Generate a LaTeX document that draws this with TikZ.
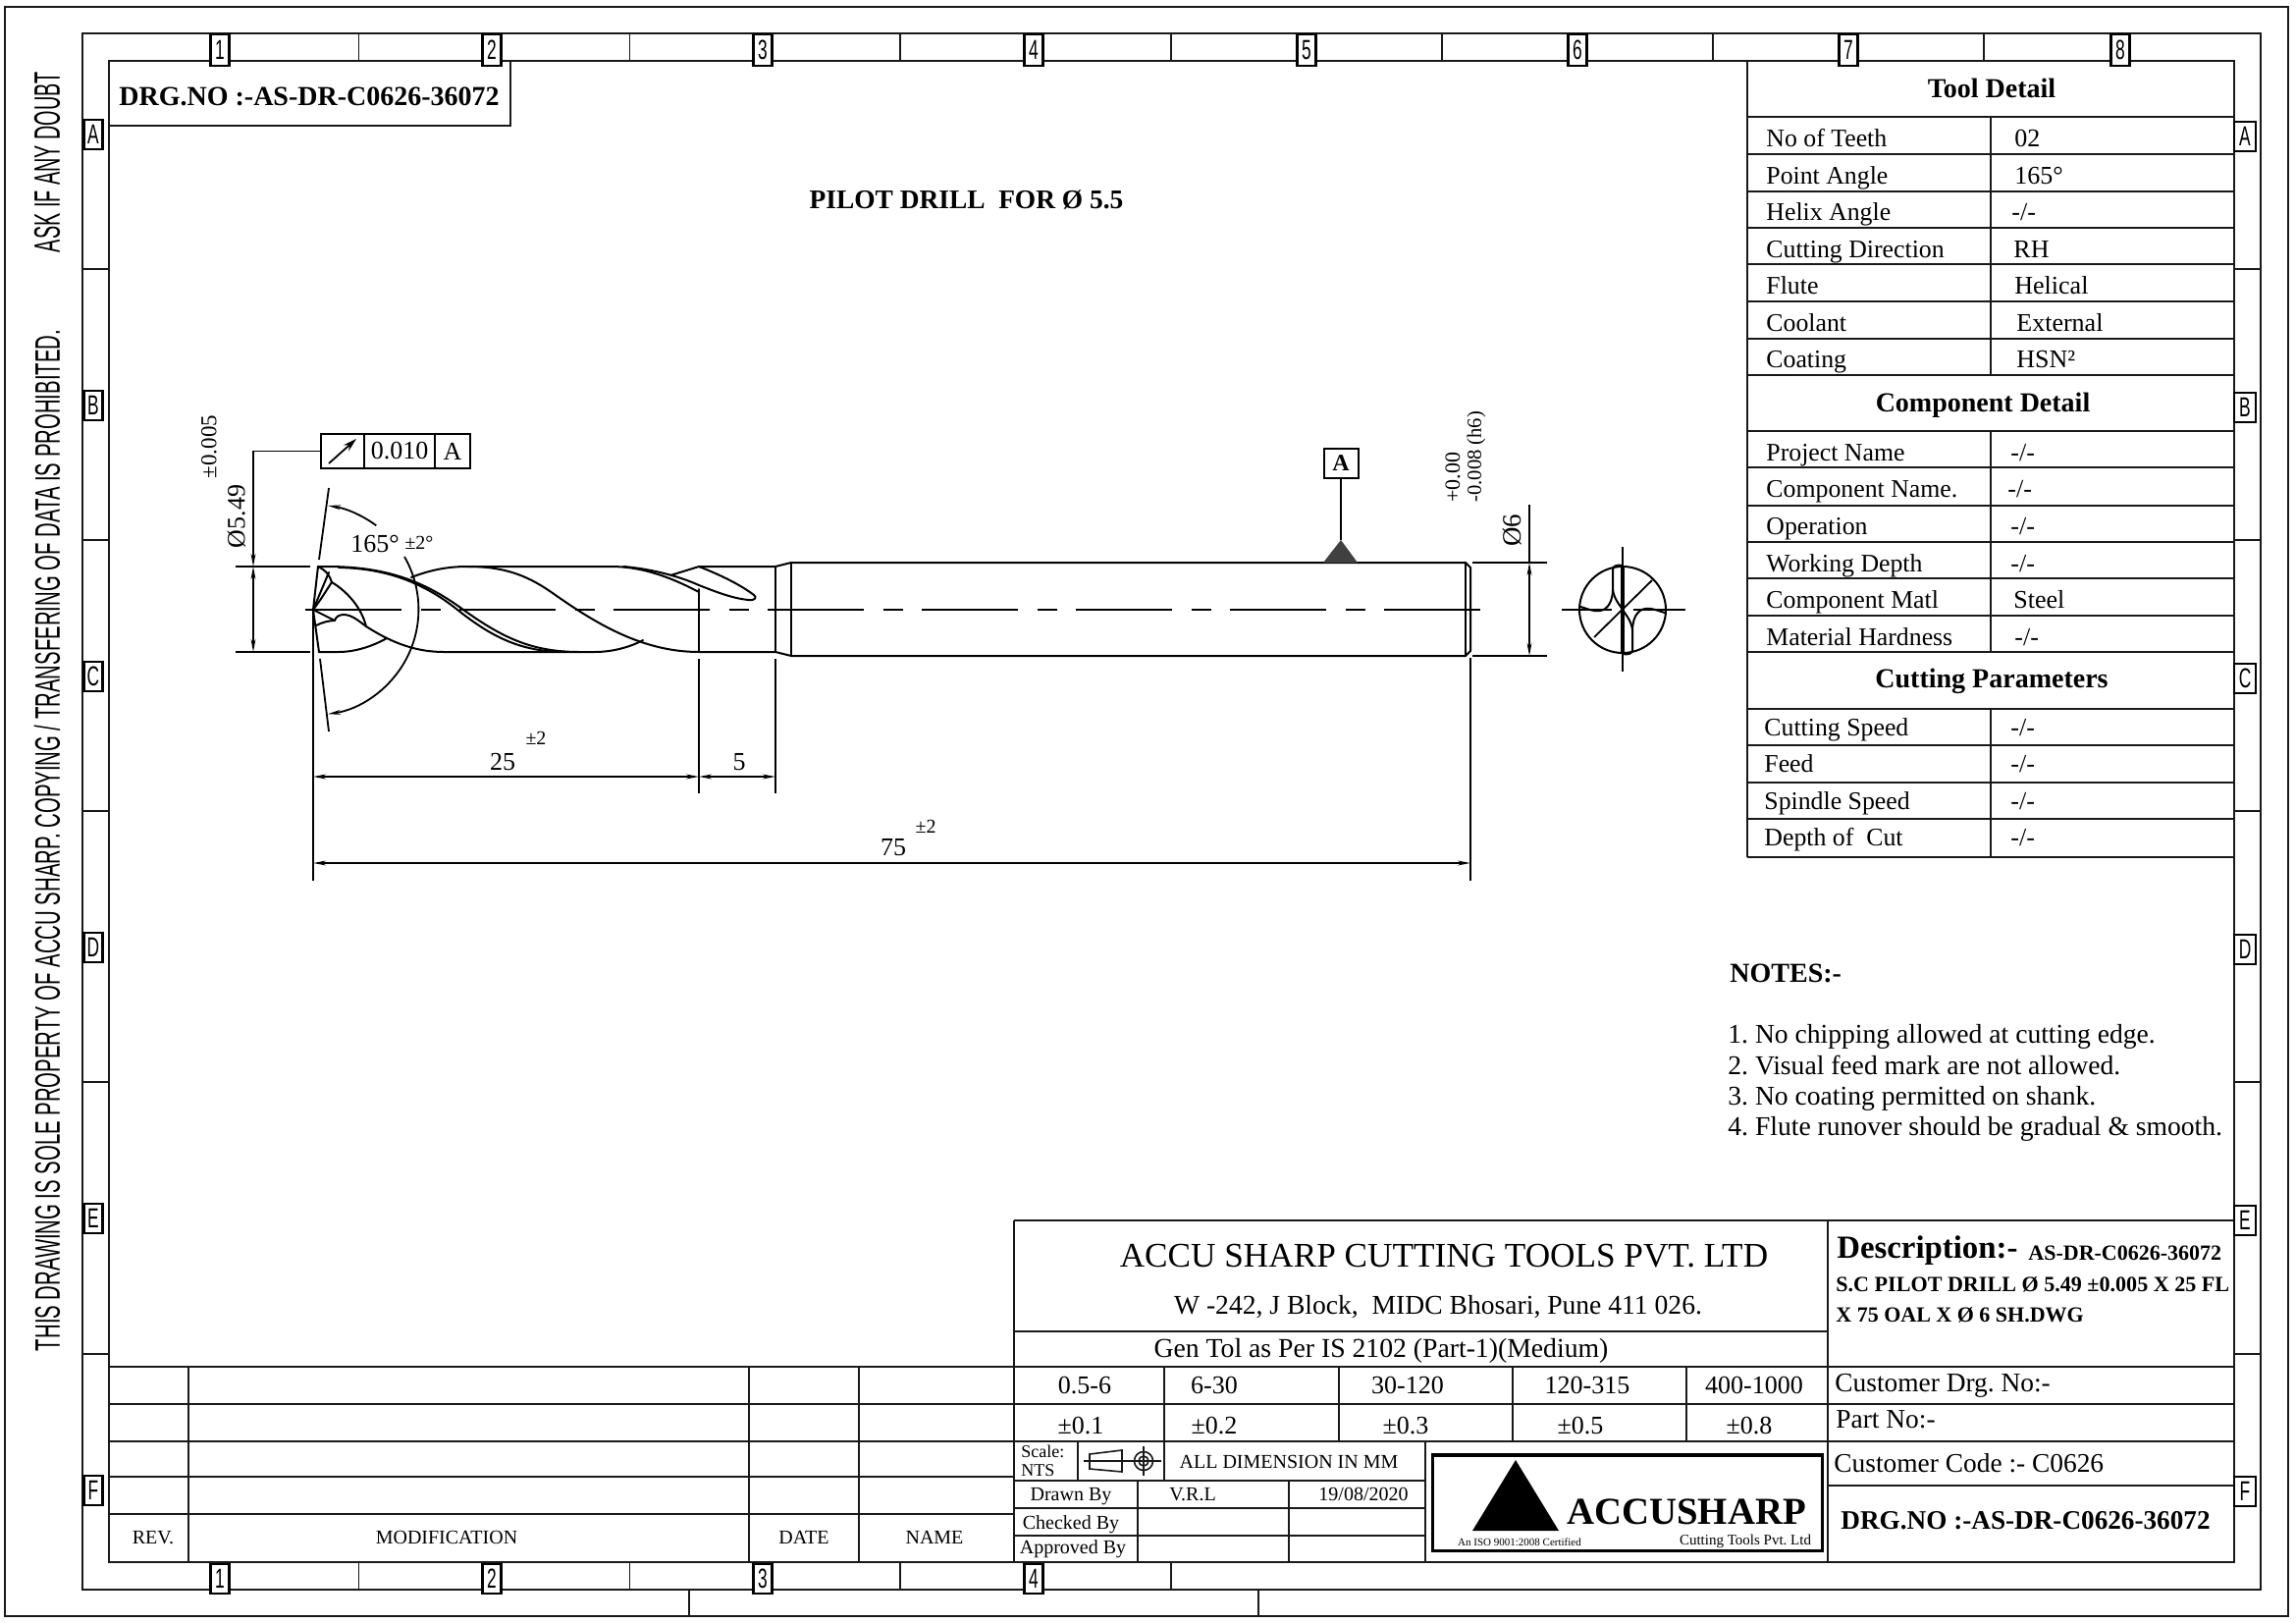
\documentclass[tikz,border=0pt]{standalone}
\usepackage{fontspec}
\usepackage{graphicx}
\setmainfont{Liberation Serif}
\newfontfamily\isofont{Liberation Sans}
\usetikzlibrary{arrows.meta}
\frenchspacing
\newcommand{\fz}[1]{\fontsize{#1pt}{#1pt}\selectfont}
\newcommand{\tc}[5]{\node[anchor=mid,inner sep=0pt,yshift=-#4*0.18pt] (#1) at (#2,#3) {\fz{#4}#5};}
\newcommand{\tl}[5]{\node[anchor=mid west,inner sep=0pt,yshift=-#4*0.18pt] (#1) at (#2,#3) {\fz{#4}#5};}
\newcommand{\gl}[1]{\scalebox{0.62}[1]{\isofont\fz{14}#1}}
\tikzset{
  ln/.style={line width=1pt,black!90},
  thn/.style={line width=0.8pt,black!90},
  dim/.style={line width=0.9pt,black,>={Stealth[length=6.5pt,width=2.4pt]}},
  body/.style={line width=1pt,black,line cap=round,line join=round},
  axisline/.style={line width=1.1pt,black,dash pattern=on 49pt off 9.75pt on 10pt off 9.75pt},
  gbox/.style={draw,fill=white,line width=1.3pt,inner sep=0pt,minimum height=15pt,minimum width=9.5pt}
}
\begin{document}
\begin{tikzpicture}[x=0.5pt,y=-0.5pt]
\useasboundingbox (0,0) rectangle (2339,1653);
\fill[white] (0,0) rectangle (2339,1653);
% frames
\draw[ln] (5,7) rectangle (2331,1646);
\draw[ln] (84,34) rectangle (2303,1619);
\draw[ln] (111,62) rectangle (2276,1591);
\foreach \x in {365.5,641.5,917,1193,1469,1745,2021} \draw[thn] (\x,34) -- (\x,62);
\foreach \x in {365.5,641.5,917,1193} \draw[thn] (\x,1591) -- (\x,1619);
\foreach \y in {274,550,826,1102,1379} {\draw[thn] (84,\y) -- (111,\y); \draw[thn] (2276,\y) -- (2303,\y);}
\draw[thn] (702,1619) -- (702,1646);
\draw[thn] (1282,1619) -- (1282,1646);
% zone labels
\foreach \n/\x in {1/224,2/501,3/777,4/1053,5/1331,6/1607,7/1883,8/2160} \node[gbox,minimum height=16pt] (top\n) at (\x,51) {\gl{\n}};
\foreach \n/\x in {1/224,2/501,3/777,4/1053} \node[gbox] (bot\n) at (\x,1608) {\gl{\n}};
\foreach \n/\y in {A/137,B/413,C/689,D/965,E/1241,F/1518} \node[gbox] (lft\n) at (95,\y) {\gl{\n}};
\foreach \n/\y in {A/139,B/415,C/691,D/967,E/1243,F/1519} \node[gbox,minimum width=11pt] (rgt\n) at (2287,\y) {\gl{\n}};
% side text
\node[rotate=90,inner sep=0pt] (asktxt) at (48,165) {\resizebox{92pt}{13pt}{\isofont ASK IF ANY DOUBT}};
\node[rotate=90,inner sep=0pt] (proptxt) at (48,856) {\resizebox{520pt}{13pt}{\isofont THIS DRAWING IS SOLE PROPERTY OF ACCU SHARP. COPYING / TRANSFERING OF DATA IS PROHIBITED.}};
% drawing number box
\draw[ln] (111,128) -- (520,128) -- (520,62);
\tl{drgtop}{121}{98}{14}{\bfseries DRG.NO :-AS-DR-C0626-36072}
\tc{pilot}{984.5}{203}{13.7}{\bfseries PILOT DRILL\ \ FOR Ø 5.5}
% Tool table
\draw[ln] (1780,62) -- (1780,873);
\foreach \y in {119,157,195,232,269,307,345,382,439,476,515,552,589,627,664,722,759,797,834,873} \draw[ln] (1780,\y) -- (2276,\y);
\draw[ln] (2028,119) -- (2028,382);
\draw[ln] (2028,439) -- (2028,664);
\draw[ln] (2028,722) -- (2028,873);
\tc{hTool}{2029}{90}{14}{\bfseries Tool Detail}
\tc{hComp}{2020}{410}{14}{\bfseries Component Detail}
\tc{hCut}{2029}{691}{14}{\bfseries Cutting Parameters}
\tl{r1}{1799}{140}{12.9}{No of Teeth}\tl{v1}{2052}{140}{13}{02}
\tl{r2}{1799}{178}{12.9}{Point Angle}\tl{v2}{2052}{178}{13}{165°}
\tl{r3}{1799}{215}{12.9}{Helix Angle}\tl{v3}{2049}{215}{13}{-/-}
\tl{r4}{1799}{253}{12.9}{Cutting Direction}\tl{v4}{2051}{253}{13}{RH}
\tl{r5}{1799}{290}{12.9}{Flute}\tl{v5}{2052}{290}{13}{Helical}
\tl{r6}{1799}{328}{12.9}{Coolant}\tl{v6}{2054}{328}{13}{External}
\tl{r7}{1799}{365}{12.9}{Coating}\tl{v7}{2054}{365}{13}{HSN²}
\tl{c1}{1799}{460}{12.9}{Project Name}\tl{w1}{2048}{460}{13}{-/-}
\tl{c2}{1799}{497}{12.9}{Component Name.}\tl{w2}{2045}{497}{13}{-/-}
\tl{c3}{1799}{535}{12.9}{Operation}\tl{w3}{2048}{535}{13}{-/-}
\tl{c4}{1799}{573}{12.9}{Working Depth}\tl{w4}{2048}{573}{13}{-/-}
\tl{c5}{1799}{610}{12.9}{Component Matl}\tl{w5}{2051}{610}{13}{Steel}
\tl{c6}{1799}{648}{12.9}{Material Hardness}\tl{w6}{2052}{648}{13}{-/-}
\tl{p1}{1797}{740}{12.9}{Cutting Speed}\tl{q1}{2048}{740}{13}{-/-}
\tl{p2}{1797}{777}{12.9}{Feed}\tl{q2}{2048}{777}{13}{-/-}
\tl{p3}{1797}{815}{12.9}{Spindle Speed}\tl{q3}{2048}{815}{13}{-/-}
\tl{p4}{1797}{852}{12.9}{Depth of\ \ Cut}\tl{q4}{2048}{852}{13}{-/-}
% Notes
\tl{nh}{1762}{991}{14}{\bfseries NOTES:-}
\tl{n1}{1760}{1053}{13.8}{1. No chipping allowed at cutting edge.}
\tl{n2}{1760}{1085}{13.8}{2. Visual feed mark are not allowed.}
\tl{n3}{1760}{1116}{13.8}{3. No coating permitted on shank.}
\tl{n4}{1760}{1147}{13.8}{4. Flute runover should be gradual \& smooth.}
% title block
\draw[ln] (1033,1243) -- (2276,1243);
\draw[ln] (1033,1243) -- (1033,1591);
\draw[ln] (1862,1243) -- (1862,1591);
\draw[ln] (1033,1356) -- (1862,1356);
\foreach \y in {1392,1430,1468} \draw[ln] (111,\y) -- (2276,\y);
\draw[ln] (111,1504) -- (1033,1504);
\draw[ln] (111,1542) -- (1033,1542);
\draw[ln] (1862,1513) -- (2276,1513);
\foreach \x in {192,763,875} \draw[ln] (\x,1392) -- (\x,1591);
\foreach \x in {1186,1364,1541,1718} \draw[ln] (\x,1392) -- (\x,1468);
\draw[ln] (1098,1468) -- (1098,1508);
\draw[ln] (1186,1468) -- (1186,1508);
\draw[ln] (1452,1468) -- (1452,1591);
\draw[ln] (1033,1508) -- (1452,1508);
\draw[ln] (1033,1536) -- (1452,1536);
\draw[ln] (1033,1564) -- (1452,1564);
\draw[ln] (1159,1508) -- (1159,1591);
\draw[ln] (1313,1508) -- (1313,1591);
\tc{t1}{1471}{1280}{17.6}{ACCU SHARP CUTTING TOOLS PVT. LTD}
\tc{t2}{1465}{1329}{13.8}{W -242, J Block,\ \ MIDC Bhosari, Pune 411 026.}
\tc{t3}{1407}{1373}{13.85}{Gen Tol as Per IS 2102 (Part-1)(Medium)}
\tc{g1}{1105}{1410}{13}{0.5-6}\tc{g2}{1237}{1410}{13}{6-30}\tc{g3}{1434}{1410}{13}{30-120}\tc{g4}{1617}{1410}{13}{120-315}\tc{g5}{1787}{1410}{13}{400-1000}
\tc{h1}{1101}{1451}{13}{±0.1}\tc{h2}{1237}{1451}{13}{±0.2}\tc{h3}{1432}{1451}{13}{±0.3}\tc{h4}{1610}{1451}{13}{±0.5}\tc{h5}{1782}{1451}{13}{±0.8}
\tl{sc1}{1040}{1477}{9}{Scale:}
\tl{sc2}{1040}{1496}{9}{NTS}
% projection symbol
\draw[thn] (1110,1481) -- (1143,1477) -- (1143,1499) -- (1110,1496) -- cycle;
\draw[thn] (1104,1488) -- (1183,1488);
\draw[thn] (1165,1473) -- (1165,1503);
\draw[thn] (1165,1488) circle[radius=9.5];
\draw[thn] (1165,1488) circle[radius=5];
\tc{alld}{1313}{1487}{10}{ALL DIMENSION IN MM}
\tc{d1}{1091}{1520}{10}{Drawn By}
\tc{d2}{1091}{1549}{10}{Checked By}
\tc{d3}{1093}{1574}{10}{Approved By}
\tc{d4}{1215}{1520}{10}{V.R.L}
\tc{d5}{1389}{1520}{10}{19/08/2020}
\tc{m1}{156}{1564}{10}{REV.}\tc{m2}{455}{1564}{10}{MODIFICATION}\tc{m3}{819}{1564}{10}{DATE}\tc{m4}{952}{1564}{10}{NAME}
% logo
\draw[line width=1.5pt] (1459,1481) rectangle (1856,1579);
\draw[line width=1.5pt] (1459,1482.5) -- (1856,1482.5);
\fill[black] (1544,1487) -- (1588,1559) -- (1500,1559) -- cycle;
\tc{lg1}{1718}{1541}{19.4}{\bfseries ACCUSHARP}
\tc{lg2}{1778}{1566}{7.5}{Cutting Tools Pvt. Ltd}
\tc{lg3}{1548}{1568}{5.5}{An ISO 9001:2008 Certified}
% description
\tl{de1}{1871}{1271}{16.4}{\bfseries Description:-}
\tl{de2}{2066}{1275}{11}{\bfseries AS-DR-C0626-36072}
\tl{de3}{1870}{1307}{11.05}{\bfseries S.C PILOT DRILL Ø 5.49 ±0.005 X 25 FL}
\tl{de4}{1870}{1338}{11}{\bfseries X 75 OAL X Ø 6 SH.DWG}
\tl{cu1}{1869}{1408}{13.7}{Customer Drg. No:-}
\tl{cu2}{1870}{1445}{13.7}{Part No:-}
\tl{cu3}{1868}{1490}{13.7}{Customer Code :- C0626}
\tl{cu4}{1875}{1548}{13.6}{\bfseries DRG.NO :-AS-DR-C0626-36072}
% ---- drill
\draw[axisline] (311,621) -- (1509,621);
% shank
\draw[body] (712,577) -- (790,577) -- (806,573) -- (1493,573) -- (1498,578) -- (1498,663) -- (1493,668) -- (806,668) -- (790,664) -- (712,664);
\draw[body] (806,573) -- (806,668);
\draw[body] (790,577) -- (790,664);
\draw[body] (1493,573) -- (1493,668);
\draw[body] (712,600) -- (712,664);
% tip
\draw[body] (324,577) -- (319,621) -- (325,664);
\draw[body] (324,577) .. controls (332,581) and (336,586) .. (338,593);
\draw[body] (319,621) -- (335,583);
\draw[body] (319,621) .. controls (326,612) and (332,602) .. (338,593);
\draw[body] (338,593) .. controls (353,602) and (368,618) .. (373,638);
\draw[body] (319,621) -- (341,632);
\draw[body] (322,637) .. controls (328,634) and (335,632) .. (341,632) .. controls (342,628) and (346,626) .. (350,626) .. controls (358,626) and (365,632) .. (373,638);
% flutes
\draw[body] (324,577) -- (333,577) .. controls (390,577) and (430,590) .. (472,621) .. controls (510,648) and (540,664) .. (590,664);
\draw[body] (345,578) .. controls (395,579) and (432,594) .. (466,621) .. controls (500,648) and (530,664) .. (576,664);
\draw[body] (373,638) .. controls (395,652) and (420,664) .. (452,664) -- (606,664) .. controls (622,664) and (640,660) .. (655,652);
\draw[body] (325,664) -- (345,664) .. controls (362,664) and (380,658) .. (394,650);
\draw[body] (419,588) .. controls (437,581) and (455,577) .. (476,577) -- (622,577) .. controls (650,577) and (678,585) .. (712,603);
\draw[body] (476,577) .. controls (512,577) and (535,585) .. (560,602) .. controls (600,630) and (650,664) .. (712,664);
\draw[body] (635,577) .. controls (660,579) and (690,586) .. (712,596) .. controls (730,603) and (745,609) .. (762,611) .. controls (770,612) and (771,608) .. (768,606) .. controls (755,596) and (735,586) .. (712,577) -- (683,586);
% point angle
\draw[dim] (335,497) -- (325,570);
\draw[dim] (326,671) -- (335,745);
\draw[dim,<-] (334,515) arc[start angle=-82,end angle=-53.3,radius=107.5];
\draw[dim,->] (412,567) arc[start angle=-30,end angle=82,radius=107.5];
\tc{ang}{382}{553}{13}{165°}
\tc{angt}{427}{551}{10}{±2°}
% extension and dimensions
\draw[dim] (240,577) -- (316,577);
\draw[dim] (240,664) -- (316,664);
\draw[dim] (319,621) -- (319,897);
\draw[dim] (712,671) -- (712,808);
\draw[dim] (790,671) -- (790,808);
\draw[dim] (1498,670) -- (1498,897);
\draw[dim] (1500,573) -- (1576,573);
\draw[dim] (1500,668) -- (1576,668);
\draw[dim,<->] (319,791) -- (712,791);
\draw[dim,<->] (712,791) -- (790,791);
\draw[dim,<->] (319,879) -- (1498,879);
\tc{d25}{512}{775}{13}{25}\tc{d25t}{546}{750}{10}{±2}
\tc{d5x}{753}{775}{13}{5}
\tc{d75}{910}{862}{13}{75}\tc{d75t}{943}{840}{10}{±2}
\draw[dim] (1558,514) -- (1558,573);
\draw[dim,<->] (1558,573) -- (1558,668);
\node[rotate=90,inner sep=0pt] (o6) at (1541,540) {\fz{13.5}Ø6};
\node[rotate=90,anchor=west,inner sep=0pt] (tol1) at (1480,512) {\fz{11}+0.00};
\node[rotate=90,anchor=west,inner sep=0pt] (tol2) at (1504,512) {\fz{10.3}-0.008 (h6)};
\node[rotate=90,inner sep=0pt] (o549) at (241,526) {\fz{13}Ø5.49};
\node[rotate=90,inner sep=0pt] (o549t) at (213,455) {\fz{11.5}±0.005};
% feature control frame
\node[draw,line width=1pt,minimum width=22pt,minimum height=17.5pt,inner sep=0pt] (fcfa) at (349,459.5) {};
\node[draw,line width=0.8pt,minimum width=36pt,minimum height=17.5pt,inner sep=0pt] (fcfb) at (407,459.5) {\fz{13}0.010};
\node[draw,line width=1pt,minimum width=18pt,minimum height=17.5pt,inner sep=0pt] (fcfc) at (461,459.5) {\fz{13}A};
\draw[line width=0.9pt,-{Stealth[open,length=7pt,width=4pt]}] (335,472) -- (363,447);
\coordinate (fcfk) at (258,459.5);
\coordinate (fcfe) at (258,577);
\draw[dim,->] (fcfa.west) -- (fcfk) -- (fcfe);
\draw[dim,<->] (258,577) -- (258,664);
% datum
\node[draw,line width=1pt,minimum width=17.5pt,minimum height=15pt,inner sep=0pt] (datum) at (1366,472) {\fz{12}\bfseries A};
\coordinate (dattip) at (1366,550);
\draw[dim] (datum.south) -- (dattip);
\fill[black!75] (1366,550) -- (1383,573) -- (1348,573) -- cycle;
% end view
\draw[body] (1653,621) circle[radius=44];
\draw[dim] (1591,621) -- (1642,621);
\draw[dim] (1664,621) -- (1717,621);
\draw[dim] (1653,557) -- (1653,684);
\draw[dim] (1624,649) -- (1683,591);
\foreach \a in {0,180}{
\begin{scope}[rotate around={\a:(1653,621)}]
\draw[body] (1610,618) .. controls (1618,620) and (1622,623) .. (1630,622) .. controls (1638,621) and (1643,612) .. (1643,600) -- (1643,580) .. controls (1643,576) and (1648,575) .. (1653,576);
\draw[body] (1643,600) .. controls (1644,610) and (1650,616) .. (1653,621);
\draw[line width=1.6pt] (1653,577) -- (1653,621);
\end{scope}}
\end{tikzpicture}
\end{document}
